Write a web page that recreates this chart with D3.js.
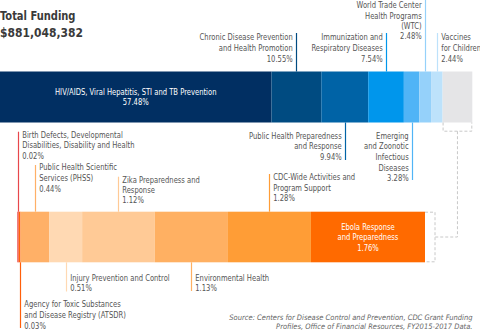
<!DOCTYPE html>
<html>
<head>
<meta charset="utf-8">
<script src="https://cdn.jsdelivr.net/npm/d3@7"></script>
<style>
  html, body { margin: 0; padding: 0; background: #fff; }
  svg { display: block; }
  text { font-family: "Liberation Sans Narrow", "DejaVu Sans Condensed", "DejaVu Sans", sans-serif; }
</style>
</head>
<body>
<svg id="chart" width="480" height="330"></svg>
<script>
// CDC grant funding, share of total by program area
const totalFunding = "$881,048,382";

const topNames = [
  "HIV/AIDS, Viral Hepatitis, STI and TB Prevention",
  "Chronic Disease Prevention and Health Promotion",
  "Public Health Preparedness and Response",
  "Immunization and Respiratory Diseases",
  "Emerging and Zoonotic Infectious Diseases",
  "World Trade Center Health Programs (WTC)",
  "Vaccines for Children",
  "Other programs"
];
const topShares = [57.48, 10.55, 9.94, 7.54, 3.28, 2.48, 2.44, 6.29];

const bottomNames = [
  "Birth Defects, Developmental Disabilities, Disability and Health",
  "Agency for Toxic Substances and Disease Registry (ATSDR)",
  "Public Health Scientific Services (PHSS)",
  "Injury Prevention and Control",
  "Zika Preparedness and Response",
  "Environmental Health",
  "CDC-Wide Activities and Program Support",
  "Ebola Response and Preparedness"
];
const bottomShares = [0.02, 0.03, 0.44, 0.51, 1.12, 1.13, 1.28, 1.76];

const sourceLines = [
  "Source: Centers for Disease Control and Prevention, CDC Grant Funding",
  "Profiles, Office of Financial Resources, FY2015-2017 Data."
];

// ---- styling ----
const topColors = ["#012f62", "#004b81", "#0063a6", "#0096ec", "#50b4f6", "#95d1fa", "#bde2fb", "#e5e5e7"];
const bottomColors = ["#e8474c", "#ff5f0a", "#ffb067", "#ffd9b3", "#ffca96", "#ffb062", "#ff9d36", "#ff6a00"];
const labelColor = "#555";
const fontSize = 8.5;
const squeeze = 0.89;   // horizontal condensing of label text

// label placement per segment (index into the arrays above)
const topLabels = [
  { i: 0, inside: true, lines: ["HIV/AIDS, Viral Hepatitis, STI and TB Prevention"] },
  { i: 1, side: "above", anchor: "end", lines: ["Chronic Disease Prevention", "and Health Promotion"], y0: 36.7, lh: 11, leaderEnd: 33 },
  { i: 3, side: "above", anchor: "end", lines: ["Immunization and", "Respiratory Diseases"], y0: 36.7, lh: 11, leaderEnd: 33 },
  { i: 5, side: "above", anchor: "end", lines: ["World Trade Center", "Health Programs", "(WTC)"], y0: 5, lh: 10.4, leaderEnd: 0 },
  { i: 6, side: "above", anchor: "start", lines: ["Vaccines", "for Children"], y0: 36.7, lh: 11, leaderEnd: 33 },
  { i: 2, side: "below", anchor: "end", lines: ["Public Health Preparedness", "and Response"], y0: 135.7, lh: 10.6, leaderEnd: 160 },
  { i: 4, side: "below", anchor: "end", lines: ["Emerging", "and Zoonotic", "Infectious", "Diseases"], y0: 135.7, lh: 10.6, leaderEnd: 180 }
];
const bottomLabels = [
  { i: 0, side: "above", anchor: "start", lines: ["Birth Defects, Developmental", "Disabilities, Disability and Health"], y0: 135, lh: 10.3, leaderEnd: 131.7 },
  { i: 2, side: "above", anchor: "start", lines: ["Public Health Scientific", "Services (PHSS)"], y0: 167, lh: 10.8, leaderEnd: 165 },
  { i: 4, side: "above", anchor: "start", lines: ["Zika Preparedness and", "Response"], y0: 180, lh: 10, leaderEnd: 176.7 },
  { i: 6, side: "above", anchor: "start", lines: ["CDC-Wide Activities and", "Program Support"], y0: 177.3, lh: 10.2, leaderEnd: 174 },
  { i: 3, side: "below", anchor: "start", lines: ["Injury Prevention and Control"], y0: 277.7, lh: 10.6, leaderEnd: 291.5 },
  { i: 5, side: "below", anchor: "start", lines: ["Environmental Health"], y0: 277.7, lh: 10.6, leaderEnd: 291 },
  { i: 1, side: "below", anchor: "start", lines: ["Agency for Toxic Substances", "and Disease Registry (ATSDR)"], y0: 304.3, lh: 10.8, leaderEnd: 328 },
  { i: 7, inside: true, lines: ["Ebola Response", "and Preparedness"] }
];

const svg = d3.select("#chart");
const pct = v => v.toFixed(2) + "%";

// text placed at (x, y), squeezed horizontally around its anchor
function addText(g, x, y, str, anchor, sx) {
  return g.append("text")
    .attr("transform", `translate(${x},${y}) scale(${sx},1)`)
    .attr("text-anchor", anchor)
    .text(str);
}

// ---- bars ----
const topBar = { y: 71.5, h: 51 };
const botBar = { y: 211.7, h: 50.6 };

const xTop = d3.scaleLinear().domain([0, d3.sum(topShares)]).range([0, 472.3]);
const xBot = d3.scaleLinear().domain([0, d3.sum(bottomShares)]).range([17.3, 425]);

function stack(values) {
  const ends = Array.from(d3.cumsum(values));
  return values.map((v, k) => ({ k, v, s0: ends[k] - v, s1: ends[k] }));
}
const topSegs = stack(topShares);
const botSegs = stack(bottomShares);

svg.append("g").selectAll("rect").data(topSegs).join("rect")
  .attr("x", d => xTop(d.s0))
  .attr("width", d => xTop(d.s1) - xTop(d.s0))
  .attr("y", topBar.y).attr("height", topBar.h)
  .attr("fill", d => topColors[d.k])
  .append("title").text(d => topNames[d.k] + ": " + pct(d.v));

svg.append("g").selectAll("rect").data(botSegs).join("rect")
  .attr("x", d => xBot(d.s0))
  .attr("width", d => xBot(d.s1) - xBot(d.s0))
  .attr("y", botBar.y).attr("height", botBar.h)
  .attr("fill", d => bottomColors[d.k])
  .append("title").text(d => bottomNames[d.k] + ": " + pct(d.v));

// ---- dashed connector from the "other" slice to the expanded bar ----
const other = topSegs[topSegs.length - 1];
const ox0 = xTop(other.s0) + 0.5, ox1 = xTop(other.s1) - 0.5, oxm = (ox0 + ox1) / 2;
const bEnd = xBot.range()[1], bBr = bEnd + 10;
const bracketY = topBar.y + topBar.h + 8.7;
const midY = botBar.y + botBar.h / 2;
const dashed = svg.append("g").attr("fill", "none").attr("stroke", "#c8c8c8")
  .attr("stroke-width", 1).attr("stroke-dasharray", "3,2");
dashed.append("path").attr("d", `M${ox0},${topBar.y + topBar.h} V${bracketY} H${ox1} V${topBar.y + topBar.h}`);
dashed.append("path").attr("d", `M${oxm},${bracketY} V${midY} H${bBr}`);
dashed.append("path").attr("d", `M${bEnd},${botBar.y + 0.5} H${bBr} V${botBar.y + botBar.h - 0.5} H${bEnd}`);

// ---- labels ----
function drawLabels(labels, segs, x, bar, colors, values) {
  const g = svg.append("g").attr("font-size", fontSize);
  labels.forEach(L => {
    const seg = segs[L.i];
    const cx = (x(seg.s0) + x(seg.s1)) / 2;
    const lines = L.lines.concat([pct(values[L.i])]);
    if (L.inside) {
      const lh = 10.6;
      const cy = bar.y + bar.h / 2;
      lines.forEach((t, j) => {
        addText(g, cx, cy + (j - (lines.length - 1) / 2) * lh + 3.1, t, "middle", squeeze)
          .attr("fill", "#fff");
      });
      return;
    }
    const lx = Math.round(cx) + 0.5;
    const barEdge = L.side === "above" ? bar.y : bar.y + bar.h;
    g.append("line")
      .attr("x1", lx).attr("x2", lx)
      .attr("y1", L.leaderEnd).attr("y2", barEdge)
      .attr("stroke", colors[L.i]).attr("stroke-width", 1.2);
    const tx = L.anchor === "end" ? lx - 3.8 : lx + 3.8;
    lines.forEach((t, j) => {
      addText(g, tx, L.y0 + j * L.lh + 3.1, t, L.anchor, squeeze).attr("fill", labelColor);
    });
  });
}
drawLabels(topLabels, topSegs, xTop, topBar, topColors, topShares);
drawLabels(bottomLabels, botSegs, xBot, botBar, bottomColors, bottomShares);

// ---- title ----
const title = svg.append("g").attr("font-size", 13).attr("font-weight", "bold").attr("fill", "#3a3a3a");
addText(title, 0, 20, "Total Funding", "start", 0.85);
addText(title, 0, 37, totalFunding, "start", 0.92);

// ---- source note ----
const src = svg.append("g")
  .attr("font-family", "'Liberation Sans', Arial, sans-serif")
  .attr("font-size", 7.5).attr("font-style", "italic").attr("fill", "#666")
  .attr("text-anchor", "end");
sourceLines.forEach((t, j) => {
  src.append("text").attr("x", 472.5).attr("y", 320.3 + j * 9).text(t);
});
</script>
</body>
</html>
